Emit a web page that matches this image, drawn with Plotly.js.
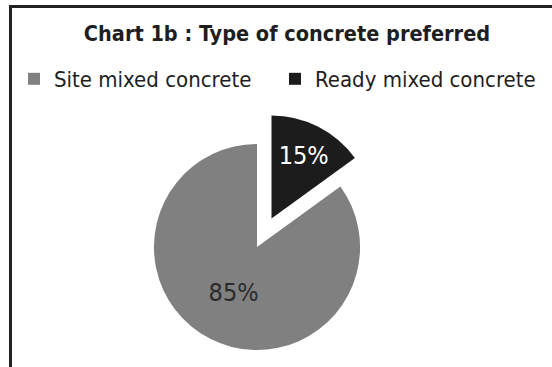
<!DOCTYPE html>
<html>
<head>
<meta charset="utf-8">
<script src="https://cdn.plot.ly/plotly-3.0.1.min.js"></script>
<style>
html,body{margin:0;padding:0;background:#fff;overflow:hidden;}
#chart{width:552px;height:400px;}
</style>
</head>
<body>
<div id="chart"></div>
<script>
// Data
var categories = ["Site mixed concrete", "Ready mixed concrete"];
var shares = [85, 15];
var chartTitle = "Chart 1b : Type of concrete preferred";

// Styles
var sliceColors = ["#808080", "#1c1c1c"];
var textColors = ["#2a2a2a", "#ffffff"];
var pulls = [0, 0.31];

var W = 552, H = 400;
var FONT = "'DejaVu Sans Condensed', 'Liberation Sans Narrow', sans-serif";

function px(x){ return x / W; }
function py(y){ return 1 - y / H; }

var cx = 257, cy = 247, half = 135;

var trace = {
  type: "pie",
  labels: categories,
  values: shares,
  sort: false,
  direction: "clockwise",
  rotation: 54,
  pull: pulls,
  marker: {colors: sliceColors, line: {width: 0}},
  textinfo: "percent",
  textposition: "inside",
  insidetextorientation: "horizontal",
  textfont: {family: FONT, size: 25, color: textColors},
  hoverinfo: "label+percent",
  domain: {x: [px(cx - half), px(cx + half)], y: [py(cy + half), py(cy - half)]}
};

var layout = {
  width: W, height: H,
  margin: {l: 0, r: 0, t: 0, b: 0},
  paper_bgcolor: "#ffffff",
  title: {
    text: "<b>" + chartTitle + "</b>",
    font: {family: FONT, size: 21.5, color: "#1e1e1e"},
    x: px(287), xanchor: "center",
    y: py(33), yanchor: "middle"
  },
  showlegend: true,
  legend: {
    orientation: "h",
    x: px(14), xanchor: "left",
    y: py(58), yanchor: "top",
    font: {family: FONT, size: 22, color: "#1e1e1e"},
    itemwidth: 30,
    entrywidth: 216,
    entrywidthmode: "pixels",
    traceorder: "normal",
    bgcolor: "rgba(0,0,0,0)"
  },
  shapes: [
    {type: "line", xref: "paper", yref: "paper", x0: px(9), x1: px(552), y0: py(6.5), y1: py(6.5), line: {color: "#222", width: 3}},
    {type: "line", xref: "paper", yref: "paper", x0: px(10.5), x1: px(10.5), y0: py(5), y1: py(400), line: {color: "#222", width: 3}}
  ]
};

Plotly.newPlot("chart", [trace], layout, {displayModeBar: false, staticPlot: true});
</script>
</body>
</html>
